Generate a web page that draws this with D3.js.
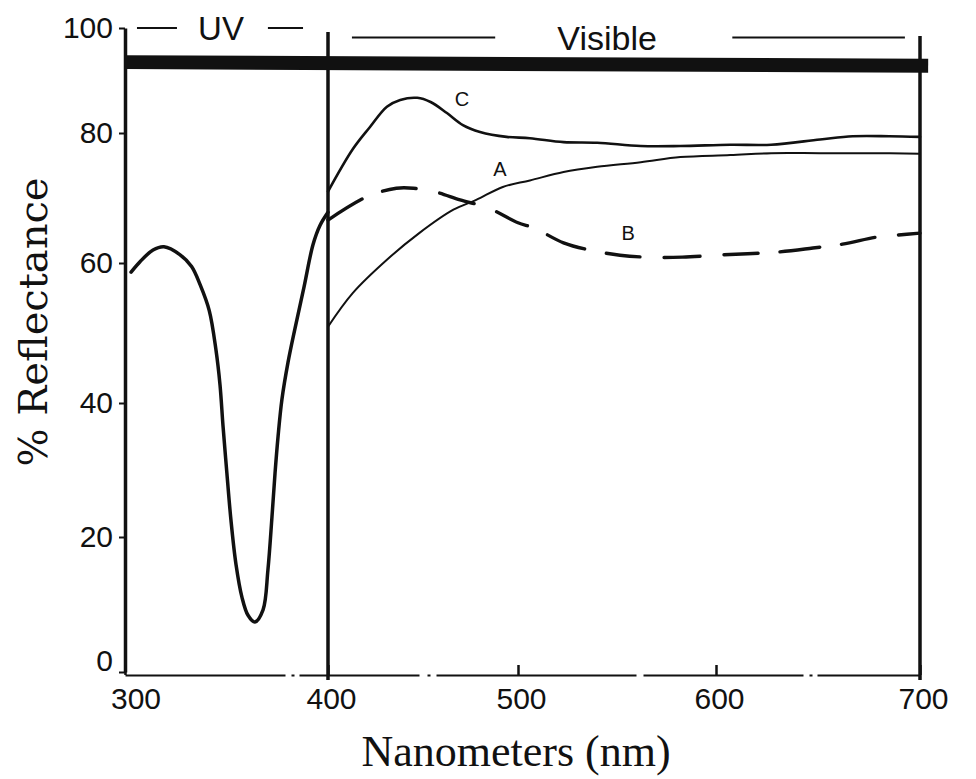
<!DOCTYPE html>
<html>
<head>
<meta charset="utf-8">
<script src="https://cdn.jsdelivr.net/npm/d3@7"></script>
<style>
  html, body { margin: 0; padding: 0; background: #fff; }
  svg { display: block; }
</style>
</head>
<body>
<svg id="chart" width="976" height="779"></svg>
<script>
// ---- Data ----
const xTicks = [300, 400, 500, 600, 700];
const yTicks = [0, 20, 40, 60, 80, 100];

// UV part (300-400 nm), common to all samples
const uvNm  = [303, 307.4, 313.8, 319.2, 327, 332.8, 337, 341.5, 344.8, 346.8, 348.3, 350.2, 352.2, 354.7, 357.6, 360.6, 364, 368, 370.4, 372.4, 373.9, 375.4, 377.3, 380.3, 383.7, 388.2, 392.6, 396.1, 400];
const uvPct = [58.7, 60.2, 62.0, 62.5, 61.3, 59.5, 56.9, 53.2, 47.6, 42.6, 36.5, 29.5, 22.5, 15.9, 11.1, 8.4, 7.4, 9.2, 15.1, 23.0, 29.5, 35.0, 40.5, 45.8, 50.6, 56.6, 62.8, 65.8, 67.8];

// Curve A
const aNm  = [400, 413, 431, 448, 466, 478, 492, 506, 523, 540, 562, 582, 607, 627, 651, 675, 700];
const aPct = [50.9, 55.7, 60.5, 64.6, 68.2, 69.7, 71.7, 72.7, 74.0, 74.8, 75.5, 76.3, 76.6, 76.9, 76.9, 76.9, 76.8];

// Curve B (dashed)
const bNm  = [400, 420.5, 436, 445, 457, 469.5, 484, 500, 508, 523, 536, 551.5, 565, 583, 600, 631, 647.5, 662, 679, 689, 700];
const bPct = [66.6, 70.2, 71.5, 71.5, 70.9, 69.7, 68.5, 66.2, 65.4, 63.1, 62.0, 61.2, 60.9, 60.9, 61.2, 61.7, 62.3, 62.9, 64.0, 64.3, 64.6];

// Curve C
const cNm  = [400, 413, 422, 431, 438, 447, 454, 462.6, 471, 480, 494, 506, 523, 540, 562, 582, 607, 627, 651, 667, 685, 700];
const cPct = [71, 77.5, 81.1, 85.0, 86.3, 86.7, 85.9, 83.8, 81.5, 80.2, 79.4, 79.2, 78.6, 78.5, 78.0, 78.0, 78.2, 78.2, 79.0, 79.5, 79.5, 79.4];

// heavy reference bar near the top of the frame
const barNm  = [300, 704];
const barPct = [93.5, 92.8];

const curveLabels = ["C", "A", "B"];
const curveLabelNm = [470.5, 490.5, 555.6];
const curveLabelPct = [85.1, 73.4, 63.5];

// ---- Scales (tick spacing in the scan is slightly uneven, so piecewise) ----
const x = d3.scaleLinear().domain(xTicks).range([125, 328, 518, 716, 920]);
const y = d3.scaleLinear().domain(yTicks).range([672, 537, 403, 263, 133, 28]);

const svg = d3.select("#chart");
const ink = "#111";

const zip = (xs, ys) => xs.map((v, i) => [v, ys[i]]);
const line = d3.line()
  .x((d) => x(d[0]))
  .y((d) => y(d[1]))
  .curve(d3.curveCatmullRom.alpha(0.5));

// ---- Axes ----
const yAxis = svg.append("g")
  .attr("transform", `translate(${x(300)},0)`)
  .call(d3.axisLeft(y).tickValues(yTicks).tickSize(6).tickPadding(6).tickSizeOuter(0));
yAxis.select(".domain").attr("stroke", ink).attr("stroke-width", 3.5);
yAxis.selectAll(".tick line").attr("stroke", ink).attr("stroke-width", 2);
yAxis.selectAll(".tick text")
  .attr("fill", ink)
  .style("font-family", "'Liberation Sans', Arial, sans-serif")
  .style("font-size", "30px")
  .attr("dy", (d) => (d === 0 ? "-0.05em" : "0.32em"));

const xAxis = svg.append("g")
  .attr("transform", `translate(0,${y(0) + 3})`)
  .call(d3.axisBottom(x).tickValues(xTicks).tickSizeInner(-10).tickSizeOuter(0).tickPadding(13));
xAxis.select(".domain").attr("stroke", ink).attr("stroke-width", 2).attr("stroke-dasharray", "160,6,3,5,120,8,3,6,200,7");
xAxis.selectAll(".tick line").attr("stroke", ink).attr("stroke-width", 2.5);
xAxis.selectAll(".tick text")
  .attr("fill", ink)
  .style("font-family", "'Liberation Sans', Arial, sans-serif")
  .style("font-size", "30px")
  .attr("dx", (d) => (d === 300 ? "0.35em" : "0.1em"));

// vertical frame lines at 400 nm and 700 nm
svg.selectAll("line.vframe")
  .data([400, 700])
  .join("line")
  .attr("class", "vframe")
  .attr("x1", (d) => x(d)).attr("x2", (d) => x(d))
  .attr("y1", (d) => y(100) + (d === 400 ? 4 : 8))
  .attr("y2", y(0) + 8)
  .attr("stroke", ink)
  .attr("stroke-width", 3.5);

// heavy bar
svg.append("path")
  .datum(zip(barNm, barPct))
  .attr("d", d3.line().x((d) => x(d[0])).y((d) => y(d[1])))
  .attr("fill", "none")
  .attr("stroke", ink)
  .attr("stroke-width", 14);

// ---- Curves ----
const series = [
  { pts: zip(uvNm, uvPct), w: 3.5, dash: null },
  { pts: zip(cNm, cPct), w: 2.6, dash: null },
  { pts: zip(aNm, aPct), w: 2, dash: null },
  { pts: zip(bNm, bPct), w: 3.4, dash: "40,22,34,24,36,24,34,22" },
];
svg.selectAll("path.curve")
  .data(series)
  .join("path")
  .attr("class", "curve")
  .attr("d", (d) => line(d.pts))
  .attr("fill", "none")
  .attr("stroke", ink)
  .attr("stroke-width", (d) => d.w)
  .attr("stroke-linecap", "round")
  .attr("stroke-dasharray", (d) => d.dash);

svg.selectAll("text.clabel")
  .data(curveLabels)
  .join("text")
  .attr("class", "clabel")
  .attr("x", (d, i) => x(curveLabelNm[i]))
  .attr("y", (d, i) => y(curveLabelPct[i]))
  .attr("text-anchor", "middle")
  .attr("fill", ink)
  .style("font-family", "'Liberation Sans', Arial, sans-serif")
  .style("font-size", "20px")
  .text((d) => d);

// ---- Region annotations at top ----
const regionDashes = [[305.9, 325.6, 100], [370.4, 387.7, 100], [412.6, 488, 98.2], [608, 692.6, 98.2]];
svg.selectAll("line.region")
  .data(regionDashes)
  .join("line")
  .attr("class", "region")
  .attr("x1", (d) => x(d[0])).attr("x2", (d) => x(d[1]))
  .attr("y1", (d) => y(d[2])).attr("y2", (d) => y(d[2]))
  .attr("stroke", ink)
  .attr("stroke-width", 2);

const regionNames = ["UV", "Visible"];
const regionNm = [347.3, 545];
const regionPct = [100, 98.2];
svg.selectAll("text.region")
  .data(regionNames)
  .join("text")
  .attr("class", "region")
  .attr("x", (d, i) => x(regionNm[i]))
  .attr("y", (d, i) => y(regionPct[i]))
  .attr("dy", "0.36em")
  .attr("text-anchor", "middle")
  .attr("fill", ink)
  .style("font-family", "'Liberation Sans', Arial, sans-serif")
  .style("font-size", (d) => (d === "UV" ? "33px" : "34px"))
  .text((d) => d);

// ---- Axis titles ----
svg.append("text")
  .attr("x", 516)
  .attr("y", 766)
  .attr("text-anchor", "middle")
  .attr("fill", ink)
  .style("font-family", "'Liberation Serif', 'Times New Roman', serif")
  .style("font-size", "44px")
  .text("Nanometers (nm)");

svg.append("text")
  .attr("transform", "translate(47,322) rotate(-90)")
  .attr("text-anchor", "middle")
  .attr("fill", ink)
  .style("font-family", "'DejaVu Serif', serif")
  .style("font-size", "40px")
  .text("% Reflectance");
</script>
</body>
</html>
